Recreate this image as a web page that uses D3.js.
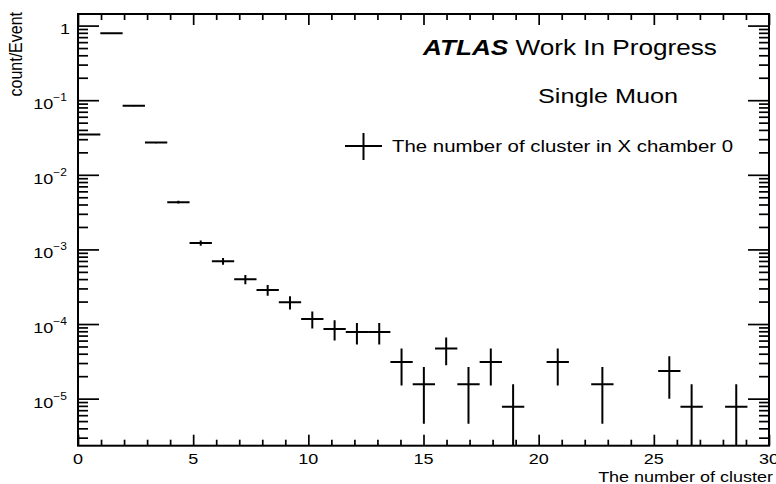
<!DOCTYPE html>
<html>
<head>
<meta charset="utf-8">
<script src="https://cdn.jsdelivr.net/npm/d3@7"></script>
<style>
body { margin: 0; background: #fff; }
text { font-family: "Liberation Sans", Arial, sans-serif; fill: #000; }
</style>
</head>
<body>
<div id="chart"></div>
<script>
var svgWidth = 776;
var svgHeight = 484;

var margin = {
  top: 14,
  right: 7,
  bottom: 38.3,
  left: 78
};

var width = svgWidth - margin.left - margin.right;
var height = svgHeight - margin.top - margin.bottom;

// histogram: 32 bins over [0, 31], only the first 30 shown
var histBins = 32, histMin = 0, histMax = 31;
var binWidth = (histMax - histMin) / histBins;

// number of clusters (bin index)
var nCluster = [0, 1, 2, 3, 4, 5, 6, 7, 8, 9, 10, 11, 12, 13, 14,
  15, 16, 17, 18, 19, 20, 21, 22, 23, 24, 25, 26, 27, 28, 29];
// count/Event (0 = empty bin)
var countPerEvent = [0.0348, 0.79, 0.084, 0.027, 0.0043, 0.00122, 0.000695, 0.000398, 0.000286, 0.000196,
  0.000117, 0.000086, 0.000078, 0.000078, 0.000031, 0.0000156, 0.000047, 0.0000156, 0.000031, 0.0000078,
  0, 0.000031, 0, 0.0000156, 0, 0, 0.0000235, 0.0000078, 0, 0.0000078];
// vertical error bars
var errPerEvent = [0.0005, 0.0025, 0.0008, 0.00046, 0.00018, 0.000098, 0.000074, 0.000056, 0.000047, 0.000039,
  0.00003, 0.000026, 0.000025, 0.000025, 0.000016, 0.000011, 0.000019, 0.000011, 0.000016, 0.0000078,
  0, 0.000016, 0, 0.000011, 0, 0, 0.0000135, 0.0000078, 0, 0.0000078];

var xMajorTicks = [0, 5, 10, 15, 20, 25, 30];
var yMajorTicks = [1, 1e-1, 1e-2, 1e-3, 1e-4, 1e-5];
var yTickExp = ["", "1", "2", "3", "4", "5"];

var sx = 1.2; // picture is stretched horizontally

var svg = d3.select("#chart")
  .append("svg")
  .attr("width", svgWidth)
  .attr("height", svgHeight);

svg.append("rect").attr("width", svgWidth).attr("height", svgHeight).attr("fill", "#fff");

var chartGroup = svg.append("g")
  .attr("transform", `translate(${margin.left}, ${margin.top})`);

var xScale = d3.scaleLinear().domain([0, 30]).range([0, width]);
var yScale = d3.scaleLog().domain([2.34e-6, 1.43]).range([height, 0]);

var xMinor = d3.range(0, 31).filter(d => d % 5 !== 0);
var yMinor = [];
[-6, -5, -4, -3, -2, -1].forEach(function(p) {
  for (var m = 2; m <= 9; m++) {
    var v = m * Math.pow(10, p);
    if (v > 2.34e-6 && v < 1.43) yMinor.push(v);
  }
});

function styleAxis(g) {
  g.select(".domain").remove();
  g.selectAll(".tick line").attr("stroke", "#000").attr("stroke-width", 1.7);
  g.selectAll(".tick text").remove();
}

// ticks on all four sides, pointing into the frame
chartGroup.append("g").attr("transform", `translate(0, ${height})`)
  .call(d3.axisBottom(xScale).tickValues(xMajorTicks).tickSize(-11)).call(styleAxis);
chartGroup.append("g").attr("transform", `translate(0, ${height})`)
  .call(d3.axisBottom(xScale).tickValues(xMinor).tickSize(-6)).call(styleAxis);
chartGroup.append("g")
  .call(d3.axisTop(xScale).tickValues(xMajorTicks).tickSize(-11)).call(styleAxis);
chartGroup.append("g")
  .call(d3.axisTop(xScale).tickValues(xMinor).tickSize(-6)).call(styleAxis);

chartGroup.append("g")
  .call(d3.axisLeft(yScale).tickValues(yMajorTicks).tickSize(-21)).call(styleAxis);
chartGroup.append("g")
  .call(d3.axisLeft(yScale).tickValues(yMinor).tickSize(-10)).call(styleAxis);
chartGroup.append("g").attr("transform", `translate(${width}, 0)`)
  .call(d3.axisRight(yScale).tickValues(yMajorTicks).tickSize(-21)).call(styleAxis);
chartGroup.append("g").attr("transform", `translate(${width}, 0)`)
  .call(d3.axisRight(yScale).tickValues(yMinor).tickSize(-10)).call(styleAxis);

// frame
chartGroup.append("rect")
  .attr("width", width)
  .attr("height", height)
  .attr("fill", "none")
  .attr("stroke", "#000")
  .attr("stroke-width", 2);

// x tick labels (the last one runs off the canvas edge, as in the original)
chartGroup.selectAll(".xlab")
  .data(xMajorTicks)
  .enter()
  .append("text")
  .attr("class", "xlab")
  .attr("text-anchor", "middle")
  .attr("font-size", 15)
  .attr("transform", d => `translate(${xScale(d)}, ${height + 18}) scale(${sx},1)`)
  .text(d => d);

// y tick labels with superscript exponents
var yLab = chartGroup.selectAll(".ylab")
  .data(yMajorTicks)
  .enter()
  .append("text")
  .attr("class", "ylab")
  .attr("text-anchor", "end")
  .attr("font-size", 15)
  .attr("transform", (d, i) => `translate(${i === 0 ? -8 : -11}, ${yScale(d) + (i === 0 ? 8 : 9)}) scale(${sx},1)`);

yLab.append("tspan").text((d, i) => i === 0 ? "1" : "10");
yLab.filter((d, i) => i > 0)
  .append("tspan")
  .attr("font-size", 10)
  .attr("dy", -8)
  .text((d, i) => "\u2212" + yTickExp[i + 1]);

// axis titles
chartGroup.append("text")
  .attr("text-anchor", "end")
  .attr("font-size", 15)
  .attr("transform", `translate(${width + 4}, ${height + 36}) scale(${sx},1)`)
  .text("The number of cluster");

chartGroup.append("text")
  .attr("text-anchor", "end")
  .attr("font-size", 16)
  .attr("transform", `translate(-56, -2) rotate(-90) scale(1,${sx})`)
  .text("count/Event");

// data crosses
var clip = svg.append("clipPath").attr("id", "plotclip")
  .append("rect").attr("width", width).attr("height", height);

var bins = nCluster.map(function(n, i) {
  return { lo: histMin + n * binWidth, hi: histMin + (n + 1) * binWidth, v: countPerEvent[i], e: errPerEvent[i] };
}).filter(d => d.v > 0);

var marks = chartGroup.append("g").attr("clip-path", "url(#plotclip)");

marks.selectAll(".hbar")
  .data(bins)
  .enter()
  .append("line")
  .attr("x1", d => xScale(d.lo))
  .attr("x2", d => xScale(Math.min(d.hi, 30)))
  .attr("y1", d => yScale(d.v))
  .attr("y2", d => yScale(d.v))
  .attr("stroke", "#000")
  .attr("stroke-width", 2);

marks.selectAll(".vbar")
  .data(bins)
  .enter()
  .append("line")
  .attr("x1", d => xScale((d.lo + d.hi) / 2))
  .attr("x2", d => xScale((d.lo + d.hi) / 2))
  .attr("y1", d => yScale(d.v + d.e))
  .attr("y2", d => d.v - d.e > 2.34e-6 ? yScale(d.v - d.e) : height)
  .attr("stroke", "#000")
  .attr("stroke-width", 2);

// labels
svg.append("text")
  .attr("font-size", 21.8)
  .attr("transform", `translate(423, 55) scale(${sx},1)`)
  .call(function(t) {
    t.append("tspan").attr("font-weight", "bold").attr("font-style", "italic").text("ATLAS");
    t.append("tspan").text(" Work In Progress");
  });

svg.append("text")
  .attr("font-size", 21)
  .attr("transform", `translate(538, 103) scale(${sx},1)`)
  .text("Single Muon");

// legend
var legend = svg.append("g");
legend.append("line").attr("x1", 345).attr("x2", 382).attr("y1", 146).attr("y2", 146)
  .attr("stroke", "#000").attr("stroke-width", 2);
legend.append("line").attr("x1", 363.5).attr("x2", 363.5).attr("y1", 133).attr("y2", 160)
  .attr("stroke", "#000").attr("stroke-width", 2);
legend.append("text")
  .attr("font-size", 17)
  .attr("transform", `translate(392, 152) scale(${sx},1)`)
  .text("The number of cluster in X chamber 0");
</script>
</body>
</html>
